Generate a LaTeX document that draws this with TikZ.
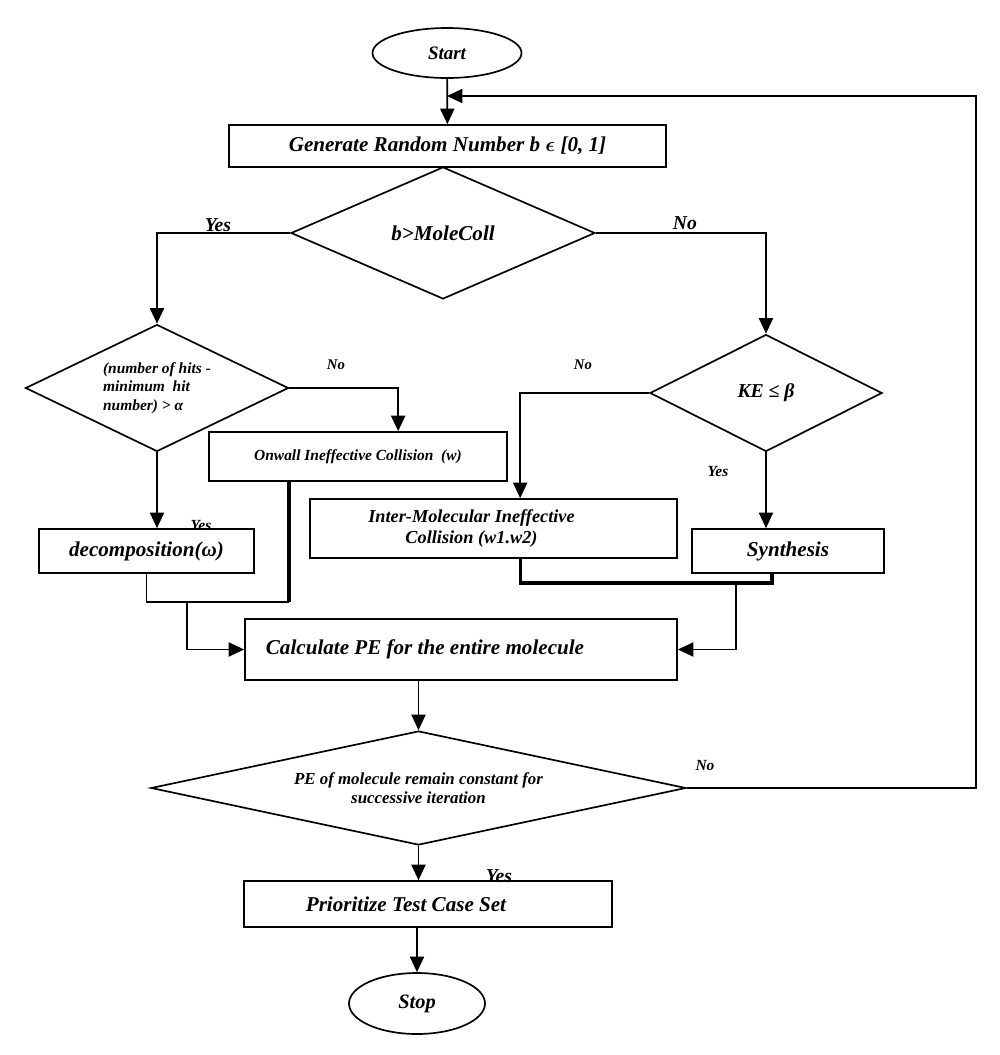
\documentclass[tikz,border=0pt]{standalone}
\usepackage{fontspec}
\setmainfont{Liberation Serif}
\usetikzlibrary{shapes.geometric,arrows.meta,calc}
\newcommand{\bi}[2]{\fontsize{#1}{#2}\selectfont\bfseries\itshape}

\begin{document}
\begin{tikzpicture}[x=0.025cm, y=-0.025cm, line width=1.2pt,
  >={Triangle[length=11pt,width=10pt]},
  caja/.style 2 args={draw, fill=white, rectangle, inner sep=2pt,
    minimum width=#1*0.025cm, minimum height=#2*0.025cm},
  rombo/.style 2 args={draw, fill=white, diamond, aspect=2, inner sep=0pt,
    minimum width=#1*0.025cm, minimum height=#2*0.025cm},
  elipse/.style 2 args={draw, fill=white, ellipse, inner sep=0pt,
    minimum width=#1*0.025cm, minimum height=#2*0.025cm},
  lbl/.style={inner sep=0pt},
  grueso/.style={line width=2.2pt}]
  \useasboundingbox (0,0) rectangle (1000,1055);
  % Inicio
  \node[elipse={149}{50}, font=\bi{13.5}{15}] (start) at (447,53) {Start};
  \node[caja={437}{42}, font=\bi{15}{18}] (gen) at (447.5,146)
      {Generate Random Number b {\boldmath$\epsilon$} [0, 1]};
  \node[rombo={304}{132}, font=\bi{15}{18}] (mole) at (443,233) {b>MoleColl};
  % Rama izquierda
  \node[rombo={263}{127}, font=\bi{11}{13}, align=left] (hits) at (157,388)
      {(number of hits -\\minimum~~hit\\number) > α};
  \node[caja={298}{49}, font=\bi{11}{13}] (onw) at (358,456.5)
      {Onwall Ineffective Collision~~(w)};
  \node[caja={215}{44}, font=\bi{15}{18}] (dec) at (146.5,551) {decomposition(ω)};
  % Rama derecha
  \node[rombo={232}{117}, font=\bi{14}{17}] (ke) at (766,393) {KE ≤ β};
  \node[caja={367}{59}, font=\bi{13}{15}, align=center] (inter) at (493.5,528.5)
      {Inter-Molecular Ineffective\hspace*{1.1cm}\\Collision (w1.w2)\hspace*{1.1cm}};
  \node[caja={192}{44}, font=\bi{15}{18}] (syn) at (788,551) {Synthesis};
  % Parte final
  \node[caja={432}{61}, font=\bi{15}{18}] (calc) at (461,649.5)
      {Calculate PE for the entire molecule\hspace*{1.8cm}};
  \node[rombo={535}{114}, aspect=4.7, font=\bi{12}{14}, align=center] (pe) at (418.5,788)
      {PE of molecule remain constant for\\successive iteration};
  \node[caja={368}{46}, font=\bi{15}{18}] (prio) at (428,904)
      {Prioritize Test Case Set\hspace*{1.1cm}};
  \node[elipse={136}{61}, font=\bi{14.5}{17}] (stop) at (417,1003.5) {Stop};
  % Etiquetas
  \node[lbl, font=\bi{14}{17}, anchor=south] (ysa) at (218,233) {Yes};
  \node[lbl, font=\bi{14}{17}, anchor=south] (noa) at (685,231) {No};
  \node[lbl, font=\bi{10.5}{12}] (nob) at (336,365) {No};
  \node[lbl, font=\bi{11}{13}, anchor=base] (ysb) at (201,530) {Yes};
  \node[lbl, font=\bi{10.5}{12}] (noc) at (583,365) {No};
  \node[lbl, font=\bi{11}{13}] (ysc) at (718,472) {Yes};
  \node[lbl, font=\bi{11}{13}] (nod) at (705,765) {No};
  \node[lbl, font=\bi{14}{17}, anchor=base] (ysd) at (499,882) {Yes};
  % Flechas
  \draw[->] (start) -- (gen);
  \draw[->] (mole.west) -| (hits.north);
  \draw[->] (mole.east) -| (ke.north);
  \draw[->] (hits.east) -| ($(onw.north west)+(190,0)$);
  \draw[->] (hits.south) -- (hits.south |- dec.north);
  \draw[->] (ke.west) -| ($(inter.north west)+(211,0)$);
  \draw[->] (ke.south) -- (ke.south |- syn.north);
  % Uniones
  \coordinate (jl) at (289,602);
  \coordinate (jm) at (187,602);
  \coordinate (jr) at (772,583);
  \coordinate (jn) at (736,583);
  \draw (dec.south) |- (jl);
  \draw[grueso] (onw.south -| jl) -- (jl);
  \draw[->] (jm) |- (calc.west);
  \draw[grueso] ($(inter.south west)+(211,0)$) |- (jr) -- (jr |- syn.south);
  \draw[->] (jn) |- (calc.east);
  \draw[->] (calc.south -| pe.north) -- (pe.north);
  \draw[->] (pe.south) -- (pe.south |- prio.north);
  \draw[->] (prio.south -| stop.north) -- (stop.north);
  % Regreso
  \coordinate (loop) at (976,96);
  \draw[->] (pe.east) -| (loop) -- (loop -| start);
\end{tikzpicture}
\end{document}
